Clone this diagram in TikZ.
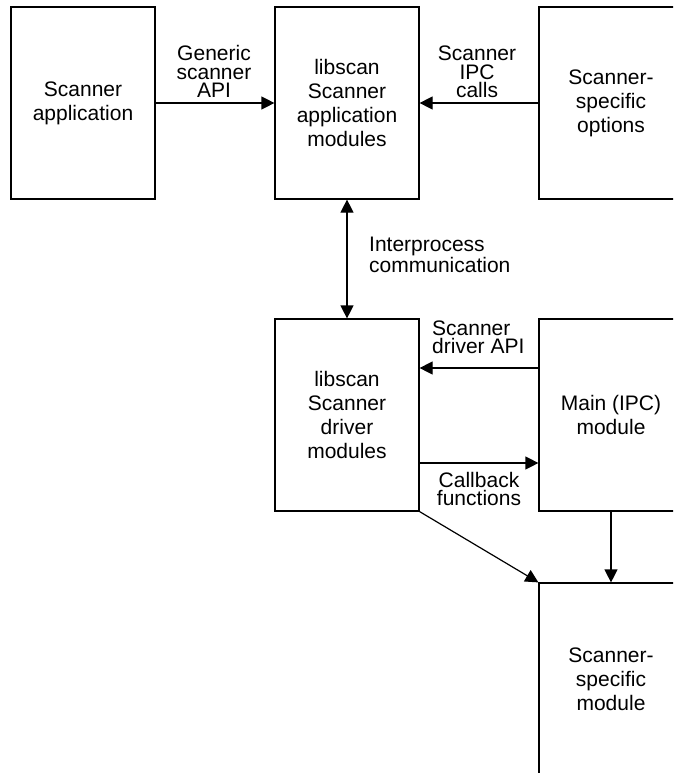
\documentclass[tikz,border=0pt]{standalone}
\usepackage{fontspec}
\setmainfont{Liberation Sans}
\usetikzlibrary{arrows.meta}
\tikzset{
  box/.style={draw, line width=1.2pt, minimum width=144pt, minimum height=192pt, inner sep=0pt, align=center, font=\fontsize{21}{24}\selectfont},
  lbl/.style={inner sep=0pt, font=\fontsize{21}{18.5}\selectfont},
  arr/.style={line width=1.2pt, -{Triangle[length=13pt,width=13pt]}},
  arrb/.style={line width=1.2pt, {Triangle[length=13pt,width=13pt]}-{Triangle[length=13pt,width=13pt]}}
}
\begin{document}
\begin{tikzpicture}[x=1pt,y=-1pt]
\useasboundingbox (0,0) rectangle (673,773);
\clip (0,0) rectangle (673,773);
\node[box] (app) at (83,103) {Scanner\\application};
\node[box] (lsa) at (347,103) {libscan\\Scanner\\application\\modules};
\node[box] (opts) at (611,103) {Scanner-\\specific\\options};
\node[box] (drv) at (347,415) {libscan\\Scanner\\driver\\modules};
\node[box] (main) at (611,415) {Main (IPC)\\module};
\node[box] (mod) at (611,679) {Scanner-\\specific\\module};
\draw[arr] (app.east) -- (lsa.west);
\draw[arr] (opts.west) -- (lsa.east);
\draw[arrb] (lsa.south) -- (drv.north);
\draw[arr] ([yshift=47pt]main.west) -- ([yshift=47pt]main.west -| drv.east);
\draw[arr] ([yshift=-48pt]drv.east) -- ([yshift=-48pt]drv.east -| main.west);
\draw[arr] (drv.south east) -- (mod.north west);
\draw[arr] (main.south) -- (mod.north);
\node[lbl, align=center, anchor=south] (l1) at (214,98) {Generic\\scanner\\API};
\node[lbl, align=center, anchor=south] (l2) at (477,98) {Scanner\\IPC\\calls};
\node[lbl, align=left, anchor=south west, font=\fontsize{21}{21}\selectfont] (l3) at (369,273) {Interprocess\\communication};
\node[lbl, align=left, anchor=south west] (l4) at (432,354) {Scanner\\driver API};
\node[lbl, align=center, anchor=south] (l5) at (479,506) {Callback\\functions};
\end{tikzpicture}
\end{document}
